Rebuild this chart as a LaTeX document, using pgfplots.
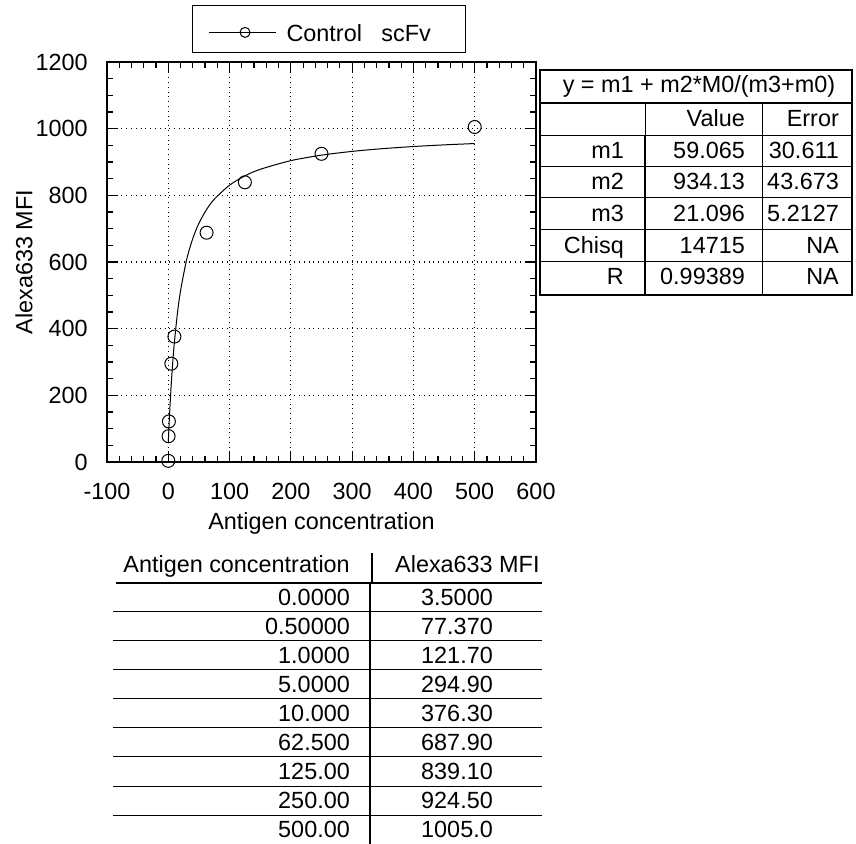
\documentclass[border=0pt]{standalone}
\usepackage{pgfplots}
\pgfplotsset{compat=1.18}
\usepackage{fontspec}
\setmainfont{Liberation Sans}
\pgfplotstableread{
x y
0 3.5
0.5 77.37
1 121.7
5 294.9
10 376.3
62.5 687.9
125 839.1
250 924.5
500 1005.0
}\datatab
\pgfplotstableread{
x y
0 59.07
0.5 80.69
1 101.34
2 139.96
3 175.37
5 238.05
7.5 304.07
10 359.47
15 447.26
20 513.68
30 607.52
40 670.65
50 716.02
62.5 757.46
75 788.12
100 830.46
125 858.31
150 878.02
200 904.06
250 920.51
300 931.83
350 940.09
400 946.40
450 951.37
500 955.38
}\fittab
\begin{document}
\fontsize{11.7}{14}\selectfont
\begin{tikzpicture}
\path[use as bounding box] (0,0) rectangle (428pt,-422pt);
\begin{axis}[
  at={(53.5pt,-231pt)}, anchor=south west,
  scale only axis, width=214.5pt, height=200pt,
  xmin=-100, xmax=600, ymin=0, ymax=1200,
  xtick distance=100, ytick distance=200,
  minor x tick num=4, minor y tick num=3,
  tick align=inside,
  major tick length=5.5pt, minor tick length=3pt,
  tick style={black, line width=0.6pt},
  grid=major, major grid style={black, dotted, line width=0.6pt},
  axis line style={line width=0.8pt},
  /pgf/number format/assume math mode=true,
  /pgf/number format/1000 sep={},
  tick label style={font=\fontsize{11.7}{14}\selectfont},
  xticklabel style={inner sep=0pt, yshift=-10.5pt},
  yticklabel style={inner sep=0pt, xshift=-9.5pt},
  xlabel={Antigen concentration},
  ylabel={Alexa633 MFI},
  label style={font=\fontsize{11.7}{14}\selectfont},
  xlabel style={at={(axis description cs:0.5,-0.125)}, anchor=north, inner sep=0pt},
  ylabel style={at={(axis description cs:-0.1725,0.5)}, anchor=south, inner sep=0pt},
  legend style={at={(axis description cs:0.198,1)}, anchor=south west, yshift=4.5pt,
    draw=black, line width=0.6pt, inner xsep=8pt, inner ysep=0pt,
    font=\fontsize{11.7}{14}\selectfont, column sep=5pt,
    nodes={inner sep=0pt, text height=18pt, text depth=5.5pt}},
]
\addplot[black, line width=0.5pt, smooth, forget plot] table[x=x,y=y] {\fittab};
\addplot[black, only marks, mark=o, mark size=3.25pt, mark options={line width=0.5pt},
  legend image code/.code={
    \draw[black, line width=0.5pt] (0pt,-1.75pt) -- (33.5pt,-1.75pt);
    \path[mark size=2.5pt, mark options={fill=white, line width=0.5pt}] plot coordinates {(18pt,-1.75pt)};
  }] table[x=x,y=y] {\datatab};
\addlegendentry{Control\ \ \ scFv\hspace*{9.5pt}}
\end{axis}
\begin{scope}[x=0.5pt, y=-0.5pt]
  % right parameter table
  \draw[line width=0.7pt] (540,70) rectangle (852,295);
  \draw[line width=0.9pt] (540,103) -- (852,103);
  \foreach \yy in {136,167,198,230,262} \draw[line width=0.5pt] (540,\yy) -- (852,\yy);
  \draw[line width=0.5pt] (645,103) -- (645,136);
  \draw[line width=1.2pt] (645,136) -- (645,295);
  \draw[line width=0.5pt] (762,103) -- (762,295);
  \node[anchor=base] at (699,93) {y = m1 + m2*M0/(m3+m0)};
  \node[anchor=base east] at (753,127) {Value};
  \node[anchor=base east] at (847,127) {Error};
  \node[anchor=base east] at (632,158.3) {m1};
  \node[anchor=base east] at (753,158.3) {59.065};
  \node[anchor=base east] at (847,158.3) {30.611};
  \node[anchor=base east] at (632,190) {m2};
  \node[anchor=base east] at (753,190) {934.13};
  \node[anchor=base east] at (847,190) {43.673};
  \node[anchor=base east] at (632,221.6) {m3};
  \node[anchor=base east] at (753,221.6) {21.096};
  \node[anchor=base east] at (847,221.6) {5.2127};
  \node[anchor=base east] at (632,253.3) {Chisq};
  \node[anchor=base east] at (753,253.3) {14715};
  \node[anchor=base east] at (847,253.3) {NA};
  \node[anchor=base east] at (632,284.5) {R};
  \node[anchor=base east] at (753,284.5) {0.99389};
  \node[anchor=base east] at (847,284.5) {NA};
  % data table
  \node[anchor=base east] at (358,572) {Antigen concentration};
  \node[anchor=base west] at (387,572) {Alexa633 MFI};
  \draw[line width=1pt] (372,553) -- (372,583);
  \draw[line width=1.2pt] (116,583) -- (542,583);
  \foreach \yy in {611,640,669,698,727,756,786,815} \draw[line width=0.5pt] (113,\yy) -- (542,\yy);
  \draw[line width=1.2pt] (370,583) -- (370,844);
  \foreach \a/\b/\yy in {0.0000/3.5000/605, 0.50000/77.370/634, 1.0000/121.70/663,
      5.0000/294.90/692, 10.000/376.30/721, 62.500/687.90/750, 125.00/839.10/779.5,
      250.00/924.50/808.5, 500.00/1005.0/837.5} {
    \node[anchor=base east] at (358,\yy) {\a};
    \node[anchor=base] at (457,\yy) {\b};
  }
\end{scope}
\end{tikzpicture}
\end{document}
